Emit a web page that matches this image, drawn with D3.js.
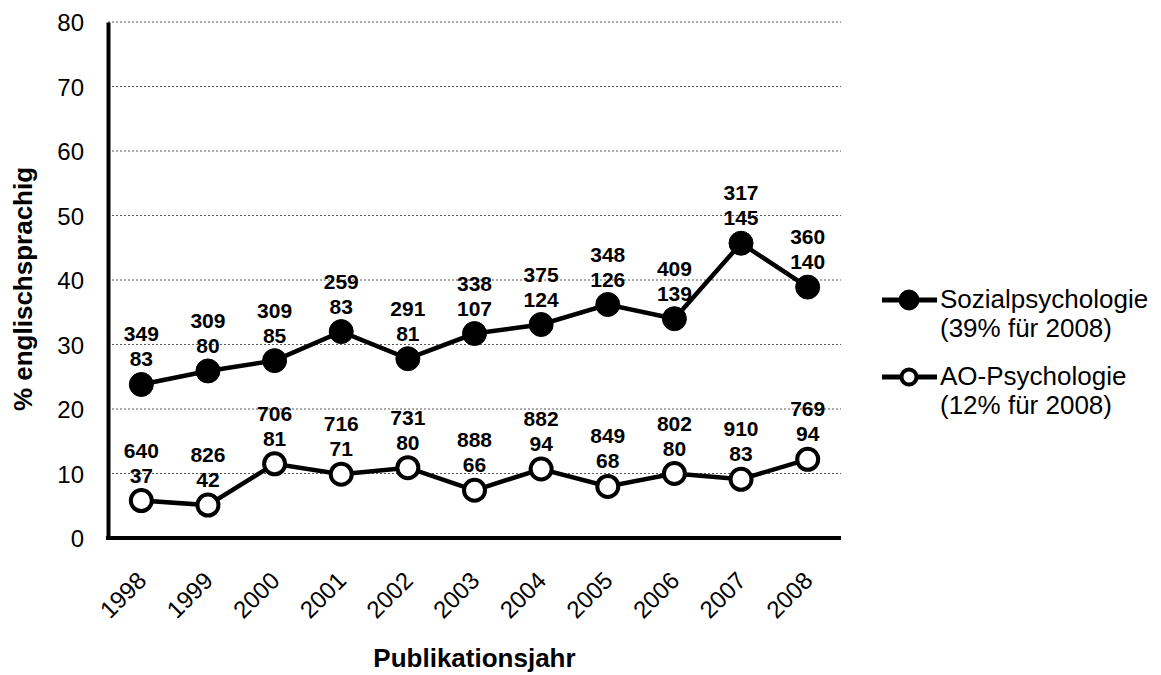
<!DOCTYPE html>
<html>
<head>
<meta charset="utf-8">
<script src="https://cdn.jsdelivr.net/npm/d3@7"></script>
<style>
  body { margin: 0; background: #fff; }
  text { font-family: Arial, "Liberation Sans", sans-serif; fill: #000; }
  .tick-label { font-size: 24px; }
  .value-label { font-size: 21px; font-weight: bold; }
  .axis-title { font-size: 26px; font-weight: bold; }
  .legend-text { font-size: 26px; }
</style>
</head>
<body>
<svg id="chart" width="1161" height="675"></svg>
<script>
var years = ["1998", "1999", "2000", "2001", "2002", "2003", "2004", "2005", "2006", "2007", "2008"];

// percent english-language
var sozialPct = [23.8, 25.9, 27.5, 32.0, 27.8, 31.7, 33.1, 36.2, 34.0, 45.7, 38.9];
var aoPct = [5.8, 5.1, 11.5, 9.9, 10.9, 7.4, 10.7, 8.0, 10.0, 9.1, 12.2];

// labels: total publications / english publications
var sozialTotal = [349, 309, 309, 259, 291, 338, 375, 348, 409, 317, 360];
var sozialEngl = [83, 80, 85, 83, 81, 107, 124, 126, 139, 145, 140];
var aoTotal = [640, 826, 706, 716, 731, 888, 882, 849, 802, 910, 769];
var aoEngl = [37, 42, 81, 71, 80, 66, 94, 68, 80, 83, 94];

var yTicks = [0, 10, 20, 30, 40, 50, 60, 70, 80];

var legendLabels = [
    ["Sozialpsychologie", "(39% für 2008)"],
    ["AO-Psychologie", "(12% für 2008)"]
];

var plotLeft = 108, plotRight = 841, plotTop = 22, plotBottom = 538;

var svg = d3.select("#chart");

var x = d3.scalePoint()
    .domain(years)
    .range([plotLeft, plotRight])
    .padding(0.5);

var y = d3.scaleLinear()
    .domain([0, 80])
    .range([plotBottom, plotTop]);

// gridlines
svg.append("g")
    .selectAll("line")
    .data(yTicks.filter(function (d) { return d > 0; }))
    .join("line")
    .attr("x1", plotLeft)
    .attr("x2", plotRight)
    .attr("y1", function (d) { return y(d); })
    .attr("y2", function (d) { return y(d); })
    .attr("stroke", "#555")
    .attr("stroke-width", 1)
    .attr("stroke-dasharray", "2,2");

// y axis
var yAxis = svg.append("g")
    .attr("transform", "translate(" + plotLeft + ",0)")
    .call(d3.axisLeft(y).tickValues(yTicks).tickSize(0).tickPadding(24));
yAxis.select(".domain").attr("stroke", "#000").attr("stroke-width", 4);
yAxis.selectAll("text")
    .attr("class", "tick-label")
    .attr("dy", "0.36em");
yAxis.attr("font-size", null).attr("font-family", null);

// x axis
var xAxis = svg.append("g")
    .attr("transform", "translate(0," + plotBottom + ")")
    .call(d3.axisBottom(x).tickSize(0).tickPadding(0));
xAxis.attr("font-size", null).attr("font-family", null);
xAxis.select(".domain")
    .attr("d", "M" + (plotLeft - 2) + ",0H" + plotRight)
    .attr("stroke", "#000").attr("stroke-width", 4);
xAxis.selectAll("text")
    .attr("class", "tick-label")
    .attr("text-anchor", "end")
    .attr("dy", null)
    .attr("y", 0)
    .attr("transform", "translate(6,44) rotate(-45)");

// axis titles
svg.append("text")
    .attr("class", "axis-title")
    .attr("text-anchor", "middle")
    .attr("transform", "translate(32,289) rotate(-90)")
    .text("% englischsprachig");

svg.append("text")
    .attr("class", "axis-title")
    .attr("text-anchor", "middle")
    .attr("x", (plotLeft + plotRight) / 2)
    .attr("y", 667)
    .text("Publikationsjahr");

var line = d3.line()
    .x(function (d, i) { return x(years[i]); })
    .y(function (d) { return y(d); });

function drawSeries(values, totals, engl, filled) {
    var g = svg.append("g");
    g.append("path")
        .datum(values)
        .attr("d", line)
        .attr("fill", "none")
        .attr("stroke", "#000")
        .attr("stroke-width", 4.5);

    g.selectAll("circle")
        .data(values)
        .join("circle")
        .attr("cx", function (d, i) { return x(years[i]); })
        .attr("cy", function (d) { return y(d); })
        .attr("r", filled ? 12 : 10.5)
        .attr("fill", filled ? "#000" : "#fff")
        .attr("stroke", "#000")
        .attr("stroke-width", filled ? 1 : 4);

    var lbl = g.selectAll("text.value-label")
        .data(values)
        .join("text")
        .attr("class", "value-label")
        .attr("text-anchor", "middle");
    lbl.append("tspan")
        .attr("x", function (d, i) { return x(years[i]); })
        .attr("y", function (d) { return y(d) - 43; })
        .text(function (d, i) { return totals[i]; });
    lbl.append("tspan")
        .attr("x", function (d, i) { return x(years[i]); })
        .attr("y", function (d) { return y(d) - 18; })
        .text(function (d, i) { return engl[i]; });
}

drawSeries(sozialPct, sozialTotal, sozialEngl, true);
drawSeries(aoPct, aoTotal, aoEngl, false);

// legend
var legend = svg.append("g");
var legendY = [300, 377];
legendLabels.forEach(function (lines, k) {
    var g = legend.append("g").attr("transform", "translate(0," + legendY[k] + ")");
    g.append("line")
        .attr("x1", 882).attr("x2", 937)
        .attr("y1", 0).attr("y2", 0)
        .attr("stroke", "#000").attr("stroke-width", 5);
    g.append("circle")
        .attr("cx", 909).attr("cy", 0)
        .attr("r", k === 0 ? 10 : 7.5)
        .attr("fill", k === 0 ? "#000" : "#fff")
        .attr("stroke", "#000")
        .attr("stroke-width", k === 0 ? 1 : 4);
    g.append("text")
        .attr("class", "legend-text")
        .attr("x", 940).attr("y", 8)
        .text(lines[0]);
    g.append("text")
        .attr("class", "legend-text")
        .attr("x", 940).attr("y", 37)
        .text(lines[1]);
});
</script>
</body>
</html>
